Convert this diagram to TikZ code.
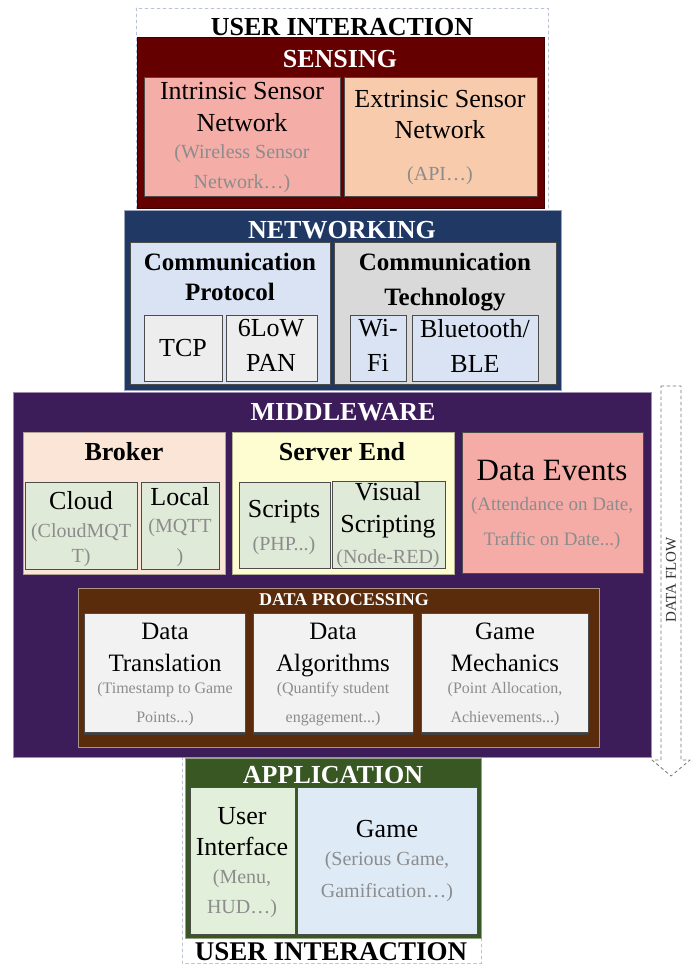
\documentclass[tikz,border=0pt]{standalone}
\usepackage{fontspec}
\setmainfont{Liberation Serif}
\usetikzlibrary{fit,shadows}

\definecolor{sensfill}{HTML}{650000}
\definecolor{netfill}{HTML}{203864}
\definecolor{midfill}{HTML}{3D1C5A}
\definecolor{procfill}{HTML}{5B2C0C}
\definecolor{appfill}{HTML}{385723}
\definecolor{intrfill}{HTML}{F4ADA7}
\definecolor{extrfill}{HTML}{F8CBAD}
\definecolor{protofill}{HTML}{DAE3F3}
\definecolor{techfill}{HTML}{D9D9D9}
\definecolor{tcpfill}{HTML}{EDEDED}
\definecolor{brokerfill}{HTML}{FBE5D6}
\definecolor{greencell}{HTML}{E0EAD8}
\definecolor{serverfill}{HTML}{FEFDD2}
\definecolor{eventsfill}{HTML}{F5ACA6}
\definecolor{procbox}{HTML}{F2F2F2}
\definecolor{uifill}{HTML}{E2EFDA}
\definecolor{gamefill}{HTML}{DEEBF7}
\definecolor{notegray}{HTML}{8C8C8C}
\definecolor{framedash}{HTML}{B8C4D6}

\newcommand{\fsz}[2]{\fontsize{#1}{#2}\selectfont}

\begin{document}
\begin{tikzpicture}[x=1pt, y=-1pt, line cap=round,
		layer/.style={draw=#1, line width=1pt, inner sep=0},
		cell/.style={draw=black!70, line width=0.8pt, inner sep=0},
		frame/.style={draw=framedash, dashed, line width=0.7pt},
		title/.style={text=white, font=\bfseries\fsz{26}{26}, anchor=base, inner sep=0},
		head/.style={font=\bfseries\fsz{25}{30}, align=center, anchor=north, inner sep=0},
		label/.style={font=\fsz{26}{32}, align=center, anchor=north, inner sep=0},
		note/.style={text=notegray, font=\fsz{20}{30}, align=center, anchor=north, inner sep=0},
		shadowed/.style={drop shadow={shadow xshift=0pt, shadow yshift=-2.5pt, fill=black!75, opacity=1}}]
		\useasboundingbox (0,0) rectangle (696,964);
		
		% User interaction frames
		\draw[frame] (136,8) rectangle (548,214);
		\draw[frame] (182,757) rectangle (481,963.5);
		
		% Sensing
		\node[layer=sensfill!60!black, fill=sensfill, fit={(137,37) (544,208)}] (sens) {};
		\node[cell, fill=intrfill, fit={(144,77) (340,196)}] (intr) {};
		\node[cell, fill=extrfill, fit={(344,77) (537,196)}] (extr) {};
		
		% Networking
		\node[layer=netfill!45!white, fill=netfill, fit={(124,210) (561,390)}] (net) {};
		\node[cell, fill=protofill, fit={(130,242) (330,384)}] (proto) {};
		\node[cell, fill=techfill, fit={(334,242) (556,384)}] (tech) {};
		\node[cell, fill=tcpfill, fit={(144,315) (222,381)}] (tcp) {};
		\node[cell, fill=tcpfill, fit={(226,315) (317,381)}] (lowpan) {};
		\node[cell, fill=protofill, fit={(350,315) (406,381)}] (wifi) {};
		\node[cell, fill=protofill, fit={(412,315) (538,381)}] (ble) {};
		
		% Middleware
		\node[layer=midfill!50!white, fill=midfill, fit={(13,392) (651,757)}] (mid) {};
		\node[cell, draw=brokerfill!70!black, fill=brokerfill, fit={(23,432) (225,574)}] (broker) {};
		\node[cell, fill=greencell, fit={(25,482) (137,569)}] (cloud) {};
		\node[cell, fill=greencell, fit={(141,482) (219,569)}] (local) {};
		\node[cell, draw=serverfill!70!black, fill=serverfill, fit={(232,432) (454,574)}] (server) {};
		\node[cell, fill=greencell, fit={(239,482) (330,568)}] (scripts) {};
		\node[cell, fill=greencell, fit={(332,481) (445,568)}] (visual) {};
		\node[cell, fill=eventsfill, fit={(462,432) (643,573)}] (events) {};
		
		% Data processing
		\node[layer=procfill!50!white, fill=procfill, fit={(78,588) (599,747)}] (proc) {};
		\node[cell, shadowed, fill=procbox, fit={(84,613) (245,732)}] (trans) {};
		\node[cell, shadowed, fill=procbox, fit={(253,613) (413,732)}] (algo) {};
		\node[cell, shadowed, fill=procbox, fit={(421,613) (588,732)}] (mech) {};
		
		% Application
		\node[layer=appfill!55!white, fill=appfill, fit={(185,758) (481,938)}] (app) {};
		\node[cell, fill=uifill, fit={(190,787) (295,934)}] (ui) {};
		\node[cell, fill=gamefill, fit={(297,787) (477,934)}] (game) {};
		
		% Data flow arrow
		\coordinate (f1) at (661,386);
		\coordinate (f2) at (681,386);
		\coordinate (f3) at (681,760);
		\coordinate (f4) at (690,760);
		\coordinate (tip) at (671,776);
		\coordinate (f5) at (652,760);
		\coordinate (f6) at (661,760);
		\draw[draw=black!55, dashed, line width=0.8pt, line join=round]
			(f1) -- (f2) -- (f3) -- (f4) -- (tip) -- (f5) -- (f6) -- cycle;
		\node[rotate=90, font=\fsz{15}{15}, text=black!80] (flow) at (671,580) {DATA FLOW};
		
		% Titles
		\node[title, text=black] (uitop) at (342,35) {USER INTERACTION};
		\node[title, text=black, font=\bfseries\fsz{27}{27}] (uibot) at (331,960) {USER INTERACTION};
		\node[title] (sensT) at (340,67) {SENSING};
		\node[title] (netT) at (342,238) {NETWORKING};
		\node[title] (midT) at (343,420) {MIDDLEWARE};
		\node[title, font=\bfseries\fsz{18}{18}] (procT) at (344,605) {DATA PROCESSING};
		\node[title] (appT) at (333,783) {APPLICATION};
		
		% Sensing labels
		\node[label] (intrL) at (242,82.3) {Intrinsic Sensor\\Network};
		\node[note] (intrN) at (242,144.4) {(Wireless Sensor\\Network…)};
		\node[label, font=\fsz{26}{31}] (extrL) at (440,90.3) {Extrinsic Sensor\\Network};
		\node[note] (extrN) at (440,166.4) {(API…)};
		
		% Networking labels
		\node[head] (protoL) at (230,253) {Communication\\Protocol};
		\node[head, font=\bfseries\fsz{25}{35}] (techL) at (445,253) {Communication\\Technology};
		\node[label, anchor=base] (tcpL) at (183,356) {TCP};
		\node[label, font=\fsz{26}{35}] (lowpanL) at (271,319.3) {6LoW\\PAN};
		\node[label, font=\fsz{26}{35}] (wifiL) at (378,319.3) {Wi-\\Fi};
		\node[label, font=\fsz{26}{35}] (bleL) at (475,319.3) {Bluetooth/\\BLE};
		
		% Middleware labels
		\node[head, anchor=base, font=\bfseries\fsz{26}{26}] (brokerL) at (124,460) {Broker};
		\node[head, anchor=base, font=\bfseries\fsz{26}{26}] (serverL) at (342,460) {Server End};
		\node[label, anchor=base] (cloudL) at (81,509) {Cloud};
		\node[note, font=\fsz{20}{25}] (cloudN) at (81,523.4) {(CloudMQT\\T)};
		\node[label, anchor=base] (localL) at (180,505) {Local};
		\node[note] (localN) at (180,518.4) {(MQTT\\)};
		\node[label, anchor=base] (scriptsL) at (284,517) {Scripts};
		\node[note, anchor=base] (scriptsN) at (284,550) {(PHP...)};
		\node[label] (visualL) at (388,482.3) {Visual\\Scripting};
		\node[note, anchor=base] (visualN) at (388,563) {(Node-RED)};
		\node[label, anchor=base, font=\fsz{31}{31}] (eventsL) at (552,480) {Data Events};
		\node[note, font=\fsz{19}{35}] (eventsN) at (552,497.1) {(Attendance on Date,\\Traffic on Date...)};
		
		% Data processing labels
		\node[label, font=\fsz{25}{32}] (transL) at (165,623) {Data\\Translation};
		\node[note, font=\fsz{16}{29}] (transN) at (165,682) {(Timestamp to Game\\Points...)};
		\node[label, font=\fsz{25}{32}] (algoL) at (333,623) {Data\\Algorithms};
		\node[note, font=\fsz{16}{29}] (algoN) at (333,682) {(Quantify student\\engagement...)};
		\node[label, font=\fsz{25}{32}] (mechL) at (505,623) {Game\\Mechanics};
		\node[note, font=\fsz{16}{29}] (mechN) at (505,682) {(Point Allocation,\\Achievements...)};
		
		% Application labels
		\node[label, font=\fsz{26}{31}] (uiL) at (242,807.3) {User\\Interface};
		\node[note] (uiN) at (242,869.4) {(Menu,\\HUD…)};
		\node[label, anchor=base] (gameL) at (387,837) {Game};
		\node[note, font=\fsz{20}{32}] (gameN) at (387,851.4) {(Serious Game,\\Gamification…)};
	\end{tikzpicture}
\end{document}
